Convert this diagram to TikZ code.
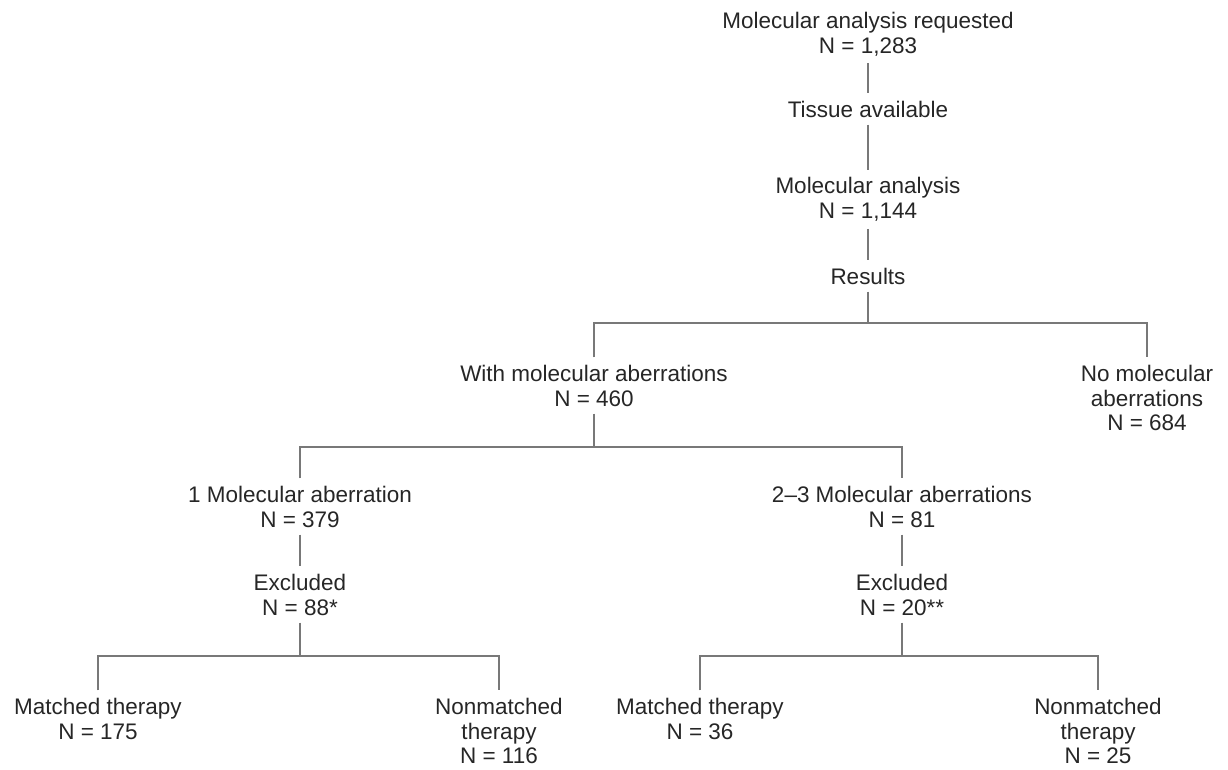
\documentclass[tikz,border=0pt]{standalone}
\usepackage{fontspec}
\setmainfont{Liberation Sans}
\definecolor{linegray}{rgb}{0.470000, 0.470000, 0.470000}
\definecolor{textgray}{rgb}{0.150000, 0.150000, 0.150000}
\tikzset{
  stagetext/.style={align=center, inner sep=4pt, text=textgray,
    font=\fontsize{12.8}{14.2}\selectfont},
  wire/.style={draw=linegray, line width=1.1pt}
}

\begin{document}
\begin{tikzpicture}[x=0.02cm, y=-0.02cm]
\useasboundingbox (0,0) rectangle (1228,770);
% top column
\node[stagetext] (requested) at (868,34) {Molecular analysis requested\\N = 1,283};
\node[stagetext] (tissue) at (868,109) {Tissue available};
\node[stagetext] (analysis) at (868,199.5) {Molecular analysis\\N = 1,144};
\node[stagetext] (results) at (868,276) {Results};
\draw[wire] (requested.south) -- (tissue.north);
\draw[wire] (tissue.south) -- (analysis.north);
\draw[wire] (analysis.south) -- (results.north);
% first split
\node[stagetext] (withab) at (594,385.5) {With molecular aberrations\\N = 460};
\node[stagetext] (noab) at (1147,398) {No molecular\\aberrations\\N = 684};
\coordinate (split1) at (868,323);
\draw[wire] (results.south) -- (split1);
\draw[wire] (withab.north) -- (withab.north |- split1) -- (noab.north |- split1) -- (noab.north);
% second split
\node[stagetext] (oneab) at (300,506.5) {1 Molecular aberration\\N = 379};
\node[stagetext] (twoab) at (902,506.5) {2--3 Molecular aberrations\\N = 81};
\coordinate (split2) at (594,447);
\draw[wire] (withab.south) -- (split2);
\draw[wire] (oneab.north) -- (oneab.north |- split2) -- (twoab.north |- split2) -- (twoab.north);
% exclusions
\node[stagetext] (exclone) at (300,594.5) {Excluded\\N = 88*};
\node[stagetext] (excltwo) at (902,594.5) {Excluded\\N = 20**};
\draw[wire] (oneab.south) -- (exclone.north);
\draw[wire] (twoab.south) -- (excltwo.north);
% therapy, left
\node[stagetext] (matchone) at (98,718.5) {Matched therapy\\N = 175};
\node[stagetext] (nonmatchone) at (499,731) {Nonmatched\\therapy\\N = 116};
\coordinate (split3) at (300,656);
\draw[wire] (exclone.south) -- (split3);
\draw[wire] (matchone.north) -- (matchone.north |- split3) -- (nonmatchone.north |- split3) -- (nonmatchone.north);
% therapy, right
\node[stagetext] (matchtwo) at (700,718.5) {Matched therapy\\N = 36};
\node[stagetext] (nonmatchtwo) at (1098,731) {Nonmatched\\therapy\\N = 25};
\coordinate (split4) at (902,656);
\draw[wire] (excltwo.south) -- (split4);
\draw[wire] (matchtwo.north) -- (matchtwo.north |- split4) -- (nonmatchtwo.north |- split4) -- (nonmatchtwo.north);
\end{tikzpicture}
\end{document}
